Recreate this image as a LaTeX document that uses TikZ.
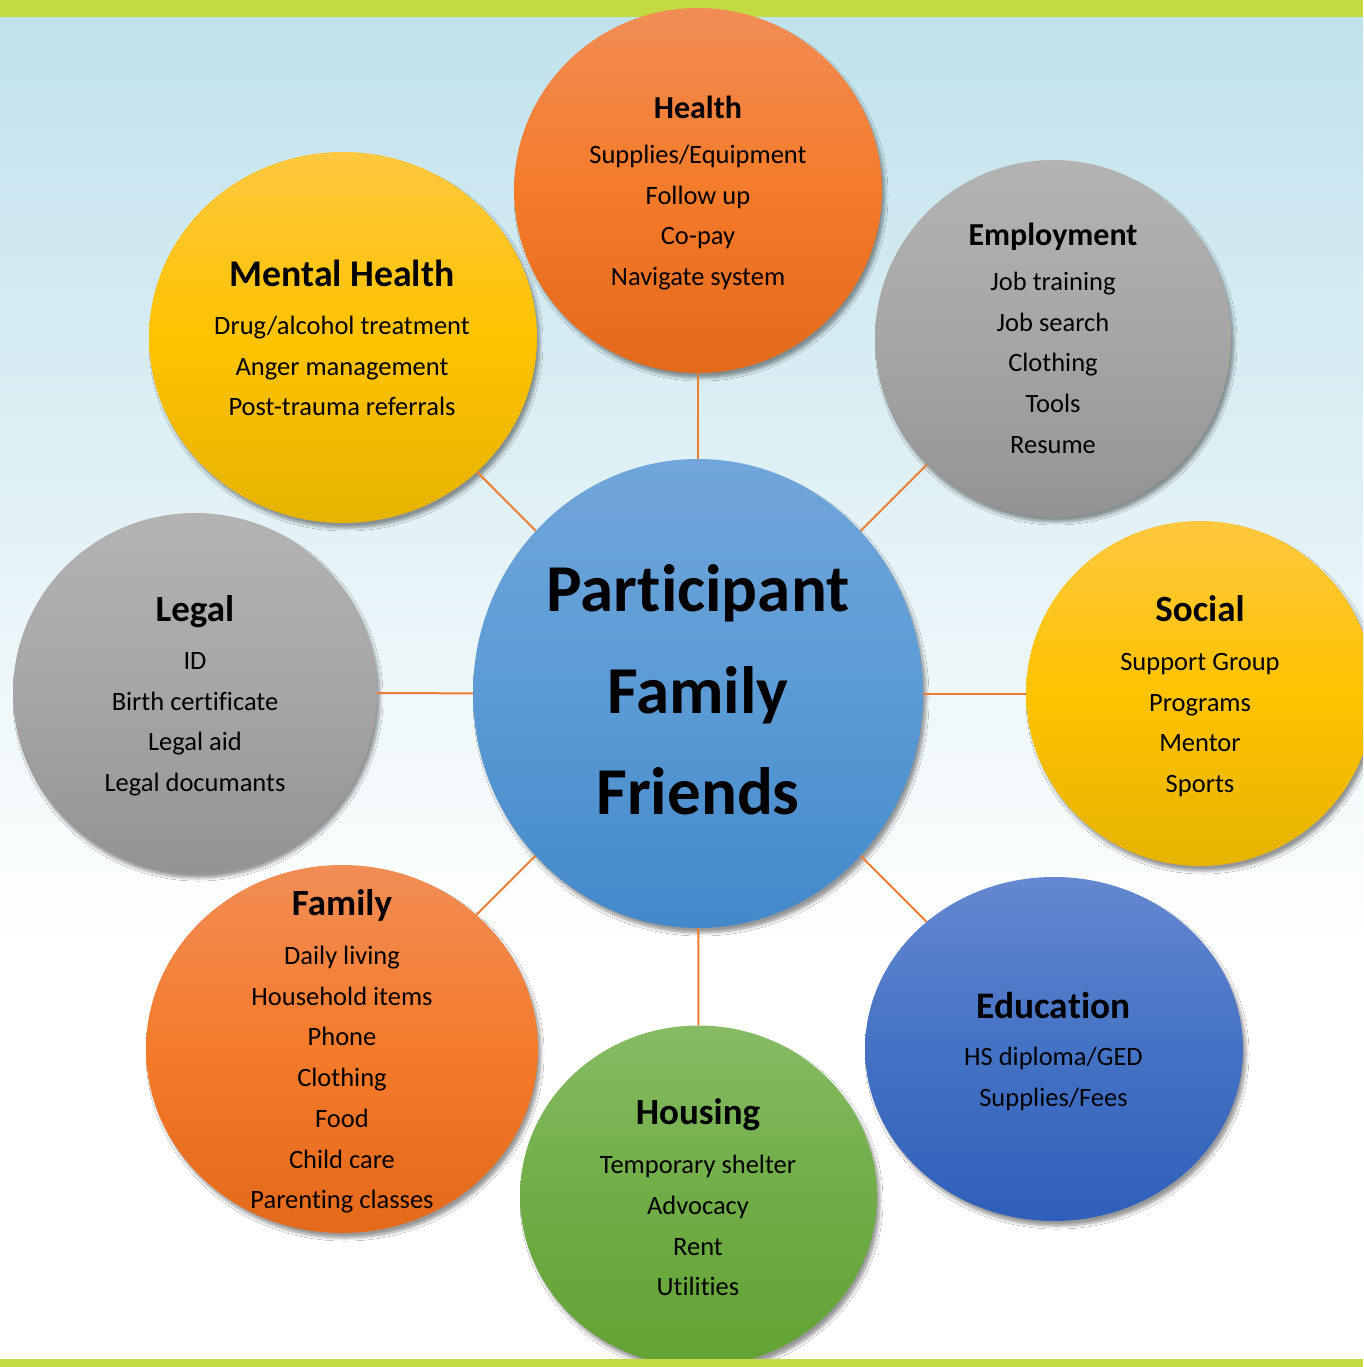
\documentclass[tikz,border=0pt]{standalone}
\usepackage{fontspec}
\setmainfont{Carlito}[Ligatures=NoCommon]
\usetikzlibrary{shapes.geometric,shadows.blur}
\definecolor{lime}{HTML}{C3DA41}
\definecolor{skyb}{HTML}{C0E2EC}
\definecolor{conncol}{HTML}{ED7D31}
\definecolor{orT}{HTML}{F18D55}\definecolor{orM}{HTML}{F47B2A}\definecolor{orB}{HTML}{E3691B}
\definecolor{yeT}{HTML}{FFC83F}\definecolor{yeM}{HTML}{FFC300}\definecolor{yeB}{HTML}{E6B300}
\definecolor{grT}{HTML}{B3B3B3}\definecolor{grM}{HTML}{A6A6A6}\definecolor{grB}{HTML}{939393}
\definecolor{blT}{HTML}{70A6DB}\definecolor{blM}{HTML}{5B9BD5}\definecolor{blB}{HTML}{4388C9}
\definecolor{dbT}{HTML}{6488D0}\definecolor{dbM}{HTML}{4472C4}\definecolor{dbB}{HTML}{2F5FBA}
\definecolor{gnT}{HTML}{86BB63}\definecolor{gnM}{HTML}{70AD47}\definecolor{gnB}{HTML}{62A233}
\newcommand\bubtext[7]{%
  \node[ttl, font=\bfseries\fontsize{#4}{#4}\selectfont] (#1-t) at (#2,#3) {#7};
  \foreach \lbl [count=\i] in {#6}
    \node[itm] (#1-\i) at (#2, #5+40.7*\i-40.7) {\lbl};
}
\begin{document}
\begin{tikzpicture}[x=1pt,y=-1pt,
  bub/.style={ellipse, inner sep=0pt, draw=none,
    blur shadow={shadow xshift=3pt, shadow yshift=-5pt, shadow blur steps=8,
      shadow blur radius=3pt, shadow opacity=40}},
  orangeb/.style={bub, top color=orT, bottom color=orB, middle color=orM},
  yellowb/.style={bub, top color=yeT, bottom color=yeB, middle color=yeM},
  grayb/.style={bub, top color=grT, bottom color=grB, middle color=grM},
  blueb/.style={bub, top color=blT, bottom color=blB, middle color=blM},
  dblueb/.style={bub, top color=dbT, bottom color=dbB, middle color=dbM},
  greenb/.style={bub, top color=gnT, bottom color=gnB, middle color=gnM},
  ttl/.style={anchor=base, inner sep=0pt, text=black, yshift=-1.5pt},
  itm/.style={anchor=base, inner sep=0pt, text=black, yshift=-1.5pt, font=\fontsize{26.5}{30}\selectfont},
  conn/.style={draw=conncol, line width=2pt}]
\useasboundingbox (0,0) rectangle (1363,1367);
\clip (0,0) rectangle (1363,1367);
% background
\fill[white] (0,0) rectangle (1363,1367);
\shade[top color=skyb, bottom color=white] (0,17) rectangle (1363,940);
\fill[lime] (0,0) rectangle (1363,17);
% bubbles
\node[blueb, minimum width=450pt, minimum height=469pt] (ctr) at (698,693.5) {};
\node[orangeb, minimum width=368pt, minimum height=365pt] (hea) at (698,190.5) {};
\node[yellowb, minimum width=388pt, minimum height=371pt] (men) at (343,337.5) {};
\node[grayb, minimum width=356pt, minimum height=357pt] (emp) at (1053,338.5) {};
\node[grayb, minimum width=364pt, minimum height=360pt] (leg) at (195,693) {};
\node[yellowb, minimum width=348pt, minimum height=345pt] (soc) at (1200,693.5) {};
\node[orangeb, minimum width=392pt, minimum height=368pt] (fam) at (342,1049) {};
\node[dblueb, minimum width=378pt, minimum height=344pt] (edu) at (1054,1049) {};
\node[greenb, minimum width=357pt, minimum height=341pt] (hou) at (698.5,1196) {};
% connectors
\draw[conn] (ctr) -- (hea);
\draw[conn] (ctr) -- (men);
\draw[conn] (ctr) -- (emp);
\draw[conn] (ctr) -- (leg);
\draw[conn] (ctr) -- (soc);
\draw[conn] (ctr) -- (fam);
\draw[conn] (ctr) -- (edu);
\draw[conn] (ctr) -- (hou);
% bottom bar
\fill[lime] (0,1359) rectangle (1363,1367);
% center text
\node[ttl, font=\bfseries\fontsize{67}{67}\selectfont] (c1) at (698,610) {Participant};
\node[ttl, font=\bfseries\fontsize{67}{67}\selectfont] (c2) at (698,711.7) {Family};
\node[ttl, font=\bfseries\fontsize{67}{67}\selectfont] (c3) at (698,813.3) {Friends};
% bubble texts
\bubtext{ht}{698}{116.7}{32}{162}{Supplies/Equipment,Follow up,Co-pay,Navigate system}{Health}
\bubtext{mt}{342}{285}{37.7}{333}{Drug/alcohol treatment,Anger management,Post-trauma referrals}{Mental Health}
\bubtext{et}{1053}{244}{32}{289}{Job training,Job search,Clothing,Tools,Resume}{Employment}
\bubtext{lt}{195}{620}{37}{668}{ID,Birth certificate,Legal aid,Legal documants}{Legal}
\bubtext{st}{1200}{620}{37}{669}{Support Group,Programs,Mentor,Sports}{Social}
\bubtext{ft}{342}{914}{37}{963}{Daily living,Household items,Phone,Clothing,Food,Child care,Parenting classes}{Family}
\bubtext{dt}{1053.5}{1016.7}{37.4}{1064}{HS diploma/GED,Supplies/Fees}{Education}
\bubtext{gt}{698}{1123.3}{37}{1172.3}{Temporary shelter,Advocacy,Rent,Utilities}{Housing}
\end{tikzpicture}
\end{document}
